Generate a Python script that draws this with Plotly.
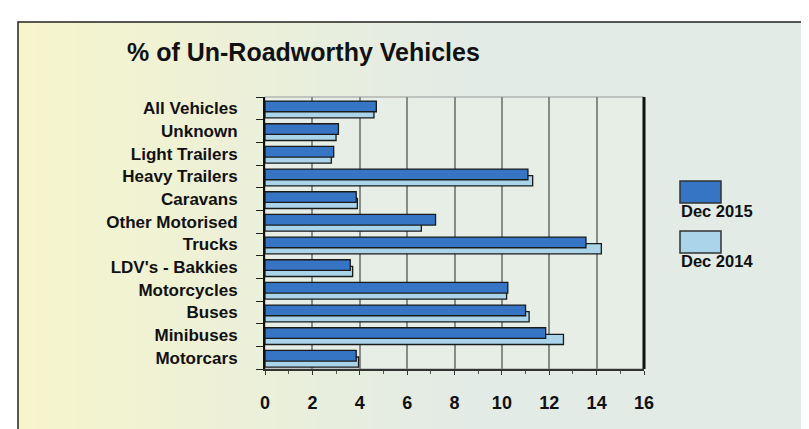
import plotly.graph_objects as go

# categories listed bottom -> top, as plotly draws them
categories = ["Motorcars", "Minibuses", "Buses", "Motorcycles", "LDV's - Bakkies",
              "Trucks", "Other Motorised", "Caravans", "Heavy Trailers",
              "Light Trailers", "Unknown", "All Vehicles"]
dec_2015 = [3.85, 11.85, 11.0, 10.25, 3.6, 13.55, 7.2, 3.85, 11.1, 2.9, 3.1, 4.7]
dec_2014 = [3.95, 12.6, 11.15, 10.2, 3.7, 14.2, 6.6, 3.9, 11.3, 2.8, 3.0, 4.6]
x_ticks = [0, 2, 4, 6, 8, 10, 12, 14, 16]
series_names = ["Dec 2015", "Dec 2014"]

W, H = 809, 429
L, R, T, B = 257, 636, 89, 361
font = "Liberation Sans, Arial, sans-serif"
dark_blue = "#3675c4"
light_blue = "#a9d4e9"


def px(x):
    return (x - L) / (R - L)


def py(y):
    return (B - y) / (B - T)


def mix(c1, c2, t):
    a = [int(c1[i:i + 2], 16) for i in (1, 3, 5)]
    b = [int(c2[i:i + 2], 16) for i in (1, 3, 5)]
    return "rgb(%d,%d,%d)" % tuple(round(a[k] + (b[k] - a[k]) * t) for k in range(3))


fig = go.Figure()
fig.add_trace(go.Bar(y=categories, x=dec_2014, orientation="h", name=series_names[1],
                     marker=dict(color=light_blue, line=dict(color="#1a1a1a", width=1.3)),
                     width=0.45, offset=-0.42))
fig.add_trace(go.Bar(y=categories, x=dec_2015, orientation="h", name=series_names[0],
                     marker=dict(color=dark_blue, line=dict(color="#1a1a1a", width=1.3)),
                     width=0.47, offset=-0.15))

# gradient background inside the frame
shapes = []
n = 40
x0, x1, y0, y1 = 10, 801, 14, 424
for i in range(n):
    a = x0 + (x1 - x0) * i / n
    b = x0 + (x1 - x0) * (i + 1) / n + 1
    shapes.append(dict(type="rect", xref="paper", yref="paper", layer="below",
                       x0=px(a), x1=px(b), y0=py(y1), y1=py(y0),
                       fillcolor=mix("#f6f5cc", "#e2ebe5", min(1, i / (n * 0.55))),
                       line=dict(width=0)))
# outer frame
shapes.append(dict(type="rect", xref="paper", yref="paper", layer="below",
                   x0=px(x0), x1=px(x1), y0=py(y1), y1=py(y0),
                   line=dict(color="#222", width=1.5)))
# plot area background
shapes.append(dict(type="rect", xref="paper", yref="paper", layer="below",
                   x0=0, x1=1, y0=0, y1=1, fillcolor="#e6eee6",
                   line=dict(color="#999", width=1)))
# right border of plot, dark
shapes.append(dict(type="line", xref="paper", yref="paper", x0=1, x1=1, y0=0, y1=1,
                   line=dict(color="#111", width=3)))

# hand drawn legend: box with label underneath
annotations = []
for name, col, top in [(series_names[0], dark_blue, 173), (series_names[1], light_blue, 223)]:
    shapes.append(dict(type="rect", xref="paper", yref="paper",
                       x0=px(672), x1=px(713), y0=py(top + 22), y1=py(top),
                       fillcolor=col, line=dict(color="#333", width=1.5)))
    annotations.append(dict(text=name, xref="paper", yref="paper", x=px(671), y=py(top + 30),
                            xanchor="left", yanchor="middle", showarrow=False,
                            font=dict(family=font, size=16.5, color="#111", weight="bold")))

fig.update_layout(
    width=W, height=H,
    margin=dict(l=L, r=W - R, t=T, b=H - B),
    paper_bgcolor="#ffffff", plot_bgcolor="rgba(0,0,0,0)",
    barmode="overlay", showlegend=False,
    title=dict(text="% of Un-Roadworthy Vehicles", xref="container", x=119 / W, xanchor="left",
               yref="container", y=1 - 44 / H, yanchor="middle",
               font=dict(family=font, size=25, color="#111", weight="bold")),
    shapes=shapes, annotations=annotations,
    xaxis=dict(range=[0, 16], tickvals=x_ticks, showgrid=True, gridcolor="#8a8a8a", gridwidth=2,
               zeroline=False, showline=True, linecolor="#333", linewidth=1.5,
               ticks="outside", ticklen=4, tickcolor="#333",
               minor=dict(dtick=1, ticks="outside", ticklen=3, tickcolor="#555"),
               ticklabelstandoff=13,
               tickfont=dict(family=font, size=18, color="#111", weight="bold")),
    yaxis=dict(categoryorder="array", categoryarray=categories, showgrid=False,
               showline=True, linecolor="#111", linewidth=2,
               ticks="outside", ticklen=7, tickcolor="#222", tickson="boundaries",
               ticklabelstandoff=22,
               tickfont=dict(family=font, size=17, color="#111", weight="bold")),
)

fig.write_html("out.html")
